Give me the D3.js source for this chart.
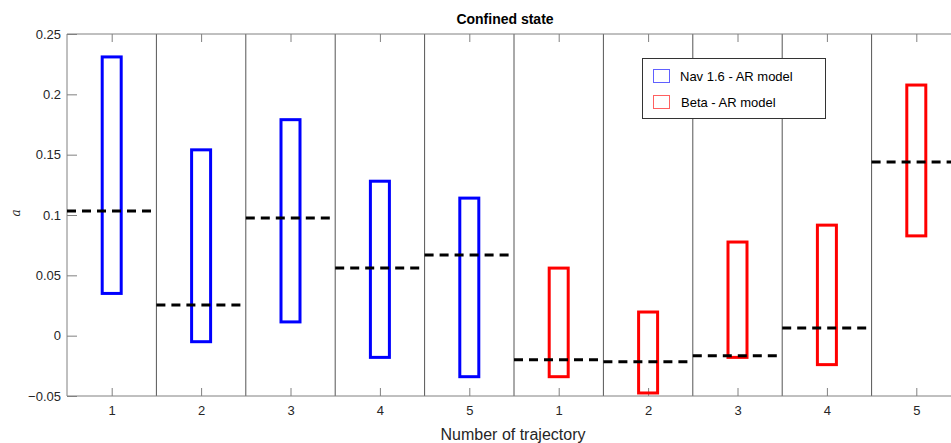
<!DOCTYPE html>
<html><head><meta charset="utf-8">
<script src="https://cdn.jsdelivr.net/npm/d3@7"></script>
<style>body{margin:0;background:#fff}svg{display:block}</style>
</head><body>
<script>
const categories = ["1","2","3","4","5","1","2","3","4","5"];
const groups = ["Nav","Nav","Nav","Nav","Nav","Beta","Beta","Beta","Beta","Beta"];
const boxTop = [0.231,0.154,0.179,0.128,0.114,0.056,0.0196,0.0776,0.0916,0.2077];
const boxBottom = [0.035,-0.005,0.0114,-0.018,-0.034,-0.034,-0.0475,-0.018,-0.024,0.0827];
const meanValues = [0.1034,0.0254,0.0975,0.056,0.0669,-0.020,-0.0217,-0.0167,0.0064,0.1439];
const yTicks = [-0.05,0,0.05,0.1,0.15,0.2,0.25];
const legendLabels = ["Nav 1.6 - AR model","Beta - AR model"];
const colors = {Nav:"#0000ff", Beta:"#ff0000"};

(function(){
const W=951,H=443;
const svg=d3.select("body").append("svg").attr("width",W).attr("height",H);
const mLeft=67, mTop=34, mBottom=396, step=89.4;
const x=d3.scaleLinear().domain([0.5,10.5]).range([mLeft,mLeft+10*step]);
const y=d3.scaleLinear().domain([-0.05,0.25]).range([mBottom,mTop]);
const font="'Liberation Sans', Arial, Helvetica, sans-serif";
const axisCol="#808080", txtCol="#262626";

const g=svg.append("g");
d3.range(1.5,10,1).forEach(v=>{
  g.append("line").attr("x1",x(v)).attr("x2",x(v)).attr("y1",mTop).attr("y2",mBottom)
   .attr("stroke","#555").attr("stroke-width",1);
});

const yAxis=d3.axisLeft(y).tickValues(yTicks).tickSize(-10).tickPadding(6).tickFormat(d=>d3.format("")(d));
const ya=svg.append("g").attr("transform",`translate(${mLeft},0)`).call(yAxis);
const xAxis=d3.axisBottom(x).tickValues(d3.range(1,11)).tickSize(-8).tickPadding(10).tickFormat((d,i)=>categories[i]);
const xa=svg.append("g").attr("transform",`translate(0,${mBottom})`).call(xAxis);
const xTop=d3.axisTop(x).tickValues(d3.range(1,11)).tickSize(-8).tickFormat("");
const xt=svg.append("g").attr("transform",`translate(0,${mTop})`).call(xTop);
[ya,xa,xt].forEach(a=>{
  a.select(".domain").attr("stroke",axisCol).attr("stroke-width",1);
  a.selectAll(".tick line").attr("stroke",axisCol);
  a.selectAll("text").attr("fill",txtCol).style("font-family",font).style("font-size","13px");
});
ya.select(".domain").attr("d",`M0,${mTop}V${mBottom}`);
xa.select(".domain").attr("d",`M${mLeft},0H${x(10.5)}`);
xt.select(".domain").attr("d",`M${mLeft},0H${x(10.5)}`);

const bw=19;
svg.append("g").selectAll("rect").data(d3.range(10)).join("rect")
  .attr("x",i=>x(i+1)-bw/2).attr("width",bw)
  .attr("y",i=>y(boxTop[i])).attr("height",i=>y(boxBottom[i])-y(boxTop[i]))
  .attr("fill","none").attr("stroke",i=>colors[groups[i]]).attr("stroke-width",3);

svg.append("g").selectAll("line").data(d3.range(10)).join("line")
  .attr("x1",i=>x(i+0.5)).attr("x2",i=>x(i+1.5))
  .attr("y1",i=>y(meanValues[i])).attr("y2",i=>y(meanValues[i]))
  .attr("stroke","#000").attr("stroke-width",3).attr("stroke-dasharray","9,6");

svg.append("text").attr("x",505).attr("y",24).attr("text-anchor","middle")
  .style("font-family",font).style("font-size","14px").style("font-weight","bold").attr("fill","#000").text("Confined state");
svg.append("text").attr("x",513).attr("y",440).attr("text-anchor","middle")
  .style("font-family",font).style("font-size","16px").attr("fill",txtCol).text("Number of trajectory");
svg.append("text").attr("transform","translate(20,213) rotate(-90)").attr("text-anchor","middle")
  .style("font-family","'DejaVu Serif', serif").style("font-style","italic").style("font-size","12px").attr("fill",txtCol).text("a");

const lg=svg.append("g");
lg.append("rect").attr("x",642.5).attr("y",58.5).attr("width",183).attr("height",60)
  .attr("fill","#fff").attr("stroke","#333").attr("stroke-width",1);
legendLabels.forEach((t,i)=>{
  const cy=76+i*26;
  lg.append("rect").attr("x",653.5).attr("y",cy-6.5).attr("width",16).attr("height",13)
    .attr("fill","none").attr("stroke",i===0?"#6060ff":"#ff6060").attr("stroke-width",1);
  lg.append("text").attr("x",680+(i===1?1:0)).attr("y",cy+4.5)
    .style("font-family",font).style("font-size","13px").attr("fill","#000").text(t);
});
})();
</script>
</body></html>
